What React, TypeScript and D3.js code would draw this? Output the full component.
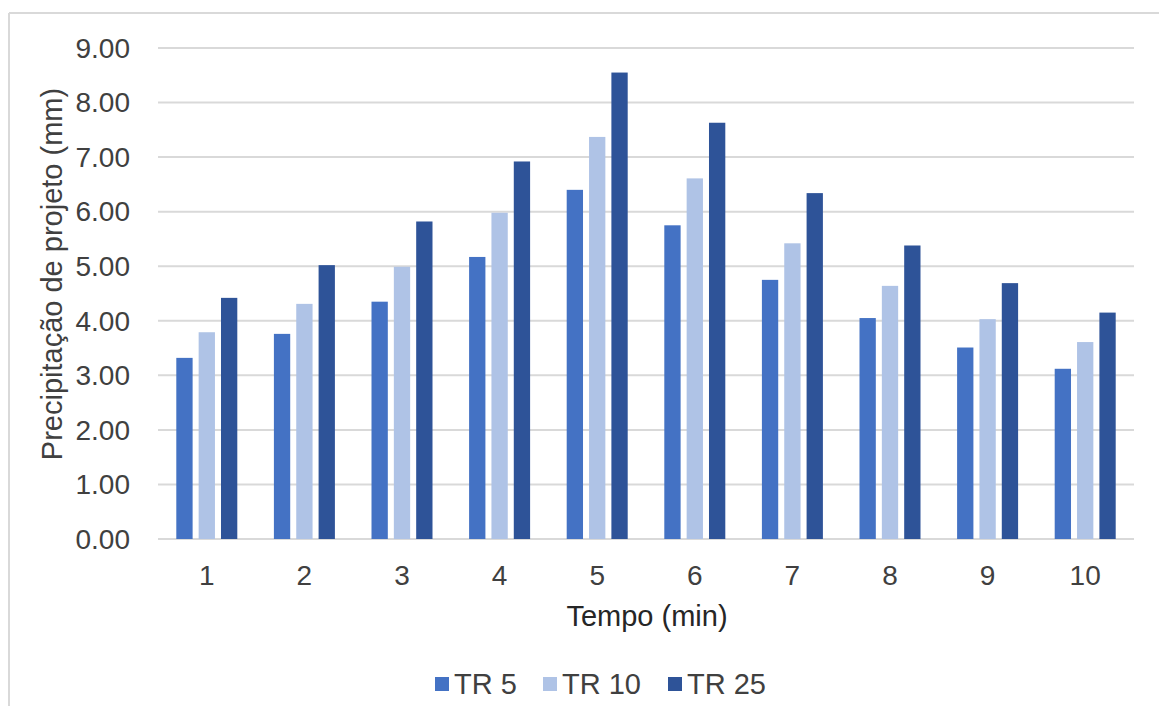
import React from "react";
import * as d3 from "d3";

const categories = ["1", "2", "3", "4", "5", "6", "7", "8", "9", "10"];
const seriesNames = ["TR 5", "TR 10", "TR 25"];
const tr5 = [3.32, 3.76, 4.35, 5.17, 6.4, 5.75, 4.75, 4.05, 3.51, 3.12];
const tr10 = [3.79, 4.31, 4.99, 5.98, 7.37, 6.61, 5.42, 4.64, 4.03, 3.61];
const tr25 = [4.42, 5.02, 5.82, 6.92, 8.55, 7.63, 6.34, 5.38, 4.69, 4.15];
const yTicks = [0, 1, 2, 3, 4, 5, 6, 7, 8, 9];
const colors = ["#4472C4", "#AFC3E6", "#2E5398"];

const W = 1159;
const H = 706;
const left = 158;
const right = 1134;
const top = 48;
const bottom = 539;
const FONT = "'Liberation Sans', Arial, sans-serif";

export default function App() {
  const series = [tr5, tr10, tr25];
  const x0 = d3.scaleBand<string>().domain(categories).range([left, right]).paddingInner(0.375).paddingOuter(0.1875);
  const x1 = d3.scaleBand<string>().domain(seriesNames).range([0, x0.bandwidth()]).paddingInner(0.27);
  const y = d3.scaleLinear().domain([0, 9]).range([bottom, top]);

  const legendX = [435, 543, 668];

  return (
    <svg width={W} height={H} style={{ position: "absolute", left: 0, top: 0, background: "#fff" }} fontFamily={FONT}>
      <rect x={0} y={0} width={W} height={H} fill="#fff" />
      <line x1={9} x2={W} y1={13} y2={13} stroke="#d9d9d9" strokeWidth={2} />
      <line x1={9} x2={9} y1={13} y2={H} stroke="#d9d9d9" strokeWidth={2} />
      {yTicks.map((t) => (
        <g key={t}>
          <line x1={left} x2={right} y1={y(t)} y2={y(t)} stroke="#d9d9d9" strokeWidth={2} />
          <text x={130} y={y(t)} dy="0.35em" textAnchor="end" fontSize={28} fill="#404040">
            {t.toFixed(2)}
          </text>
        </g>
      ))}
      {categories.map((c, i) => (
        <g key={c}>
          {series.map((s, j) => (
            <rect
              key={j}
              x={(x0(c) ?? 0) + (x1(seriesNames[j]) ?? 0)}
              y={y(s[i])}
              width={x1.bandwidth()}
              height={y(0) - y(s[i])}
              fill={colors[j]}
            />
          ))}
          <text x={(x0(c) ?? 0) + x0.bandwidth() / 2} y={575} dy="0.35em" textAnchor="middle" fontSize={28} fill="#404040">
            {c}
          </text>
        </g>
      ))}
      <text x={647} y={616} dy="0.35em" textAnchor="middle" fontSize={29} fill="#262626">
        Tempo (min)
      </text>
      <text
        transform={`translate(52, 274) rotate(-90)`}
        dy="0.35em"
        textAnchor="middle"
        fontSize={29}
        fill="#404040"
      >
        Precipitação de projeto (mm)
      </text>
      {seriesNames.map((n, j) => (
        <g key={n}>
          <rect x={legendX[j]} y={677} width={14} height={14} fill={colors[j]} />
          <text x={legendX[j] + 19} y={684} dy="0.35em" fontSize={29} fill="#404040">
            {n}
          </text>
        </g>
      ))}
    </svg>
  );
}
